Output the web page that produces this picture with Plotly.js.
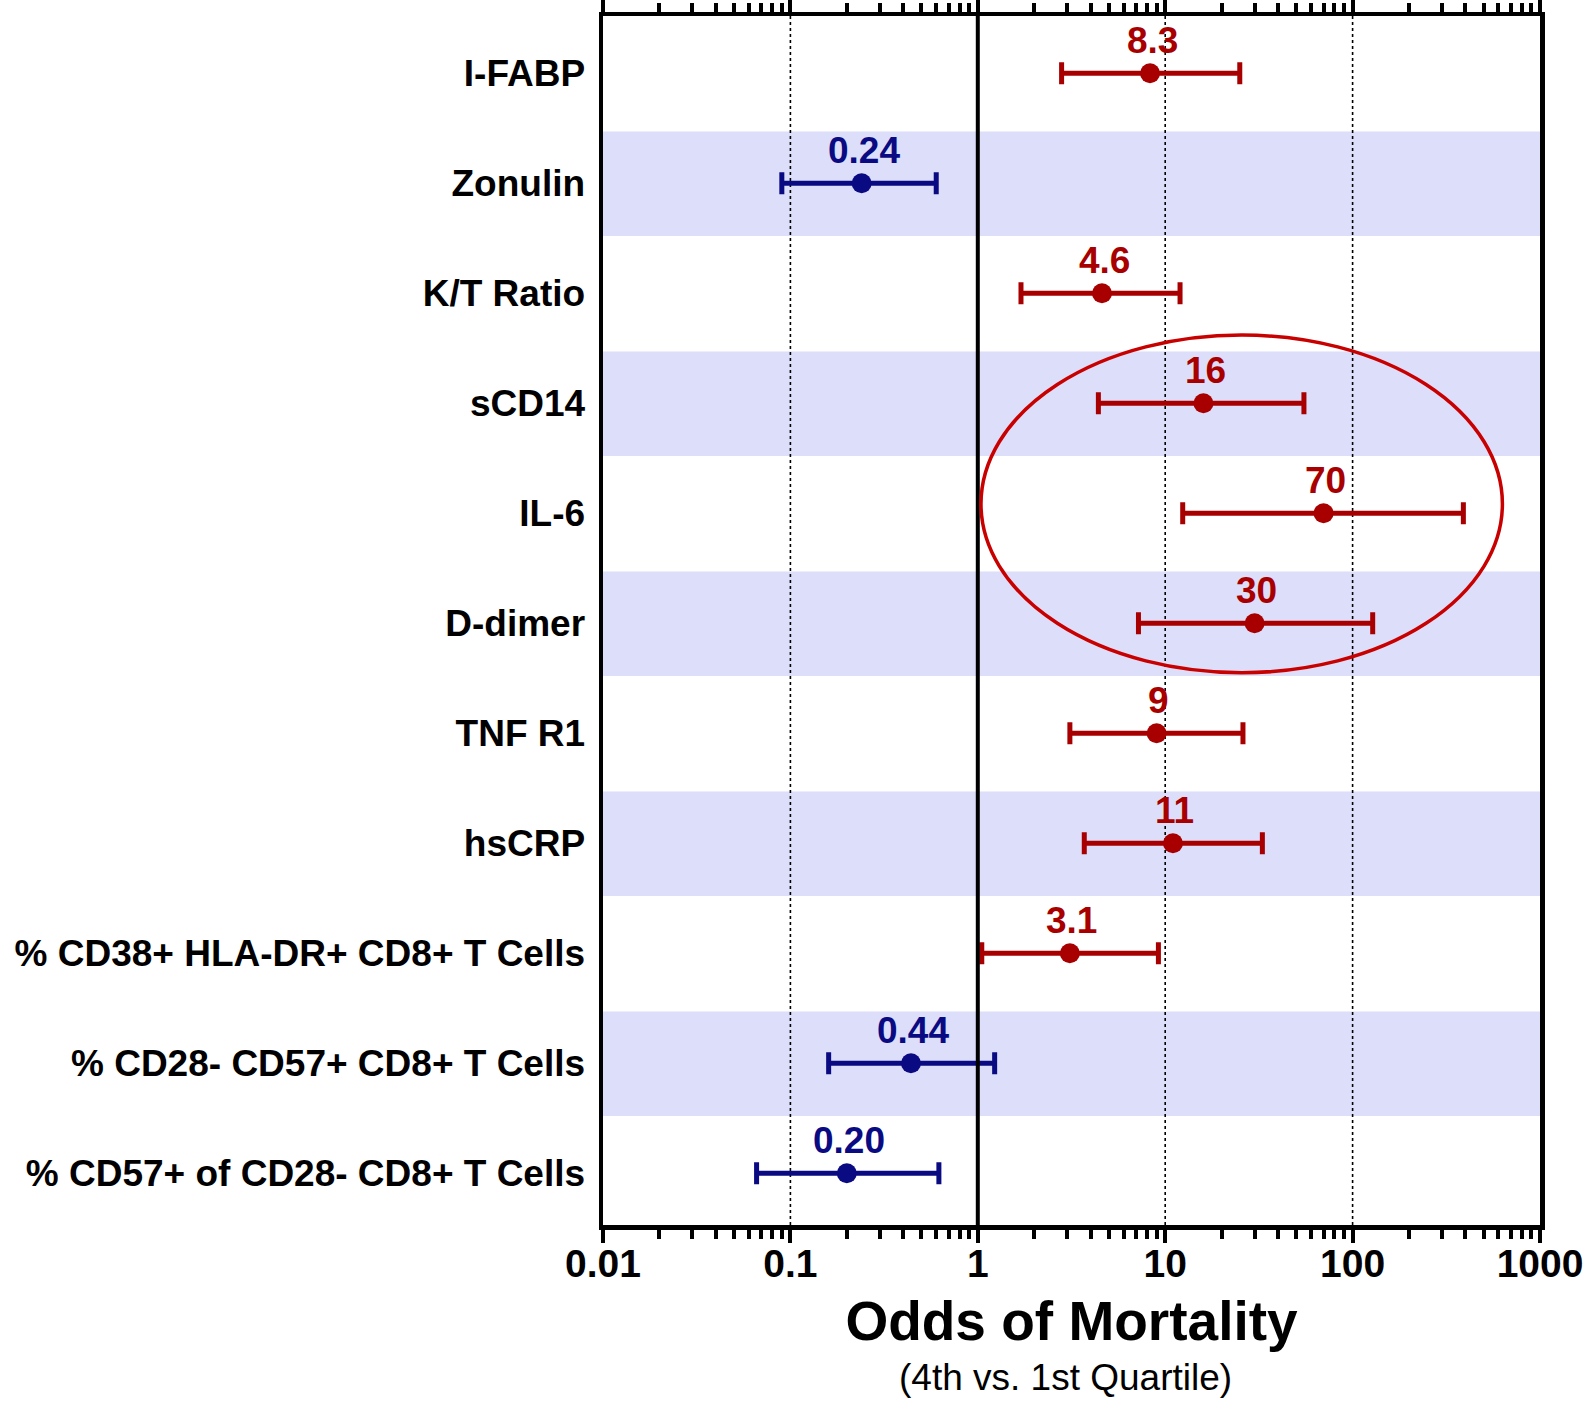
<!DOCTYPE html>
<html>
<head>
<meta charset="utf-8">
<script src="https://cdn.plot.ly/plotly-3.0.1.min.js"></script>
<style>html,body{margin:0;padding:0;background:#fff;}#chart{width:1588px;height:1404px;}</style>
</head>
<body>
<div id="chart"></div>
<script>
// ---- data ----
var markers = ["I-FABP", "Zonulin", "K/T Ratio", "sCD14", "IL-6", "D-dimer", "TNF R1", "hsCRP",
  "% CD38+ HLA-DR+ CD8+ T Cells", "% CD28- CD57+ CD8+ T Cells", "% CD57+ of CD28- CD8+ T Cells"];
var oddsRatio = [8.3, 0.24, 4.6, 16, 70, 30, 9, 11, 3.1, 0.44, 0.20];
var oddsLabel = ["8.3", "0.24", "4.6", "16", "70", "30", "9", "11", "3.1", "0.44", "0.20"];
var ciLower = [2.8, 0.090, 1.70, 4.4, 12.4, 7.2, 3.1, 3.7, 1.05, 0.160, 0.066];
var ciUpper = [25, 0.60, 12.0, 55, 390, 128, 26, 33, 9.2, 1.23, 0.62];
var shadedRows = [1, 3, 5, 7, 9];
var xTickVals = [0.01, 0.1, 1, 10, 100, 1000];
var xTickText = ["0.01", "0.1", "1", "10", "100", "1000"];
var dottedGrid = [0.1, 10, 100];
var circled = {x0: 1.04, x1: 630, y0: 2.38, y1: 5.45};

// ---- styling ----
var RED = "#A80000", BLUE = "#0A0A82", BAND = "#DCDEFA";
var FONT = "Liberation Sans, Arial, Helvetica, sans-serif";

var rowIdx = markers.map(function (_, i) { return i; });
function colorOf(i) { return oddsRatio[i] < 1 ? BLUE : RED; }

function subset(arr, keep) { return arr.filter(function (_, i) { return keep(i); }); }
var groups = [
  {keep: function (i) { return oddsRatio[i] >= 1; }, color: RED},
  {keep: function (i) { return oddsRatio[i] < 1; }, color: BLUE}
];

var traces = groups.map(function (g) {
  var idx = subset(rowIdx, g.keep);
  return {
    type: "scatter",
    mode: "markers",
    x: idx.map(function (i) { return oddsRatio[i]; }),
    y: idx,
    marker: {size: 20, color: g.color},
    error_x: {
      type: "data", symmetric: false,
      array: idx.map(function (i) { return ciUpper[i] - oddsRatio[i]; }),
      arrayminus: idx.map(function (i) { return oddsRatio[i] - ciLower[i]; }),
      color: g.color, thickness: 5, width: 11
    },
    cliponaxis: false,
    hoverinfo: "x+y",
    showlegend: false
  };
});

var shapes = [];
shadedRows.forEach(function (r) {
  shapes.push({type: "rect", xref: "paper", x0: 0, x1: 1, yref: "y", y0: r - 0.47, y1: r + 0.48,
    fillcolor: BAND, line: {width: 0}, layer: "below"});
});
dottedGrid.forEach(function (v) {
  shapes.push({type: "line", xref: "x", x0: v, x1: v, yref: "paper", y0: 0, y1: 1,
    line: {color: "#000", width: 1.6, dash: "dot"}, layer: "below"});
});
shapes.push({type: "line", xref: "x", x0: 1, x1: 1, yref: "paper", y0: 0, y1: 1,
  line: {color: "#000", width: 4}, layer: "above"});
shapes.push({type: "circle", xref: "x", x0: circled.x0, x1: circled.x1, yref: "y",
  y0: circled.y0, y1: circled.y1, line: {color: "#C80000", width: 3.5}, layer: "above"});

// value labels above each point (annotation x on a log axis is log10 of the value)
var annotations = rowIdx.map(function (i) {
  return {
    xref: "x", yref: "y", x: Math.log10(oddsRatio[i]), y: i,
    text: oddsLabel[i], showarrow: false, yanchor: "bottom", yshift: 10, xshift: 2,
    font: {family: FONT, size: 37, color: colorOf(i), weight: "bold"}
  };
});
annotations.push({
  xref: "paper", yref: "paper", x: 0.5, y: 0, yshift: -152, xshift: -6,
  text: "(4th vs. 1st Quartile)", showarrow: false,
  font: {family: FONT, size: 37, color: "#000"}, yanchor: "middle"
});

var layout = {
  width: 1588, height: 1404,
  margin: {l: 603, r: 48, t: 16, b: 179},
  paper_bgcolor: "#fff",
  plot_bgcolor: "rgba(0,0,0,0)",
  font: {family: FONT, color: "#000"},
  xaxis: {
    type: "log",
    range: [-2, 3],
    tickvals: xTickVals,
    ticktext: xTickText,
    ticks: "outside", ticklen: 13, tickwidth: 4, tickcolor: "#000",
    ticklabelstandoff: -12,
    minor: {ticks: "outside", ticklen: 9, tickwidth: 4, tickcolor: "#000", dtick: "D1", showgrid: false},
    showgrid: false,
    showline: true, linewidth: 4.5, linecolor: "#000", mirror: "allticks",
    tickfont: {family: FONT, size: 39, weight: "bold"},
    title: {text: "Odds of Mortality", font: {family: FONT, size: 55, weight: "bold"}, standoff: 18},
    fixedrange: true
  },
  yaxis: {
    range: [10.47, -0.52],
    tickvals: rowIdx,
    ticktext: markers,
    ticks: "",
    ticklabelstandoff: 6,
    showgrid: false, zeroline: false,
    showline: true, linewidth: 4.5, linecolor: "#000", mirror: true,
    tickfont: {family: FONT, size: 37, weight: "bold"},
    fixedrange: true
  },
  shapes: shapes,
  annotations: annotations
};

Plotly.newPlot("chart", traces, layout, {displayModeBar: false, staticPlot: true});
</script>
</body>
</html>
